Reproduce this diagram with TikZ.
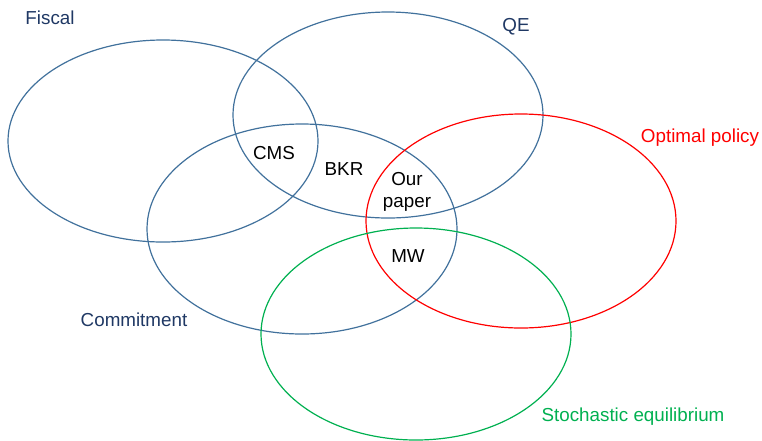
\documentclass[tikz,border=0pt]{standalone}
\usepackage{fontspec}
\setmainfont{Liberation Sans}
\usetikzlibrary{positioning}

\definecolor{setblue}{HTML}{41719C}
\definecolor{navy}{HTML}{1F3864}
\definecolor{setred}{HTML}{FF0000}
\definecolor{setgreen}{HTML}{00B050}

\begin{document}
\begin{tikzpicture}[
    x=1pt, y=-1pt,
    font=\fontsize{18.8}{21.5}\selectfont,
    set/.style={line width=1.2pt},
    lbl/.style={inner sep=0pt, align=center},
  ]
  \useasboundingbox (0,0) rectangle (762,440);

  % the five sets
  \draw[set, setblue] (163,141) ellipse [x radius=155, y radius=101];
  \draw[set, setblue] (388,115) ellipse [x radius=155, y radius=103];
  \draw[set, setblue] (302,229) ellipse [x radius=155, y radius=105];
  \draw[set, setred] (521,221) ellipse [x radius=155, y radius=107];
  \draw[set, setgreen] (416,334) ellipse [x radius=155, y radius=106];

  % set names
  \node[lbl, text=navy] (fiscal) at (50,18) {Fiscal};
  \node[lbl, text=navy] (qe) at (516,27) {QE};
  \node[lbl, text=setred] (optimal) at (700,138) {Optimal policy};
  \node[lbl, text=navy] (commit) at (134,320) {Commitment};
  \node[lbl, text=setgreen] (stoch) at (633,417) {Stochastic equilibrium};

  % papers in the overlaps
  \node[lbl] (cms) at (274,153) {CMS};
  \node[lbl] (bkr) at (344,169) {BKR};
  \node[lbl] (ours) at (407,192) {Our\\paper};
  \node[lbl] (mw) at (408,256) {MW};
\end{tikzpicture}
\end{document}
